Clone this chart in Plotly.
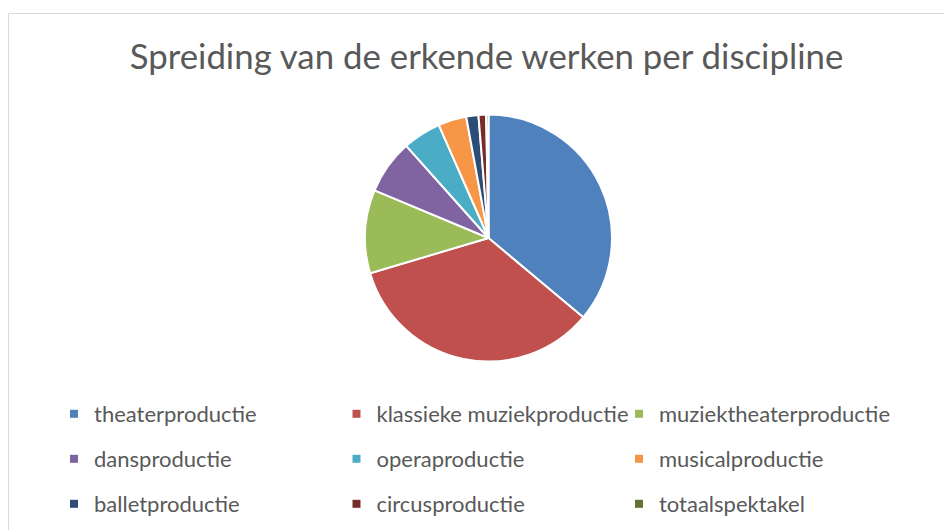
import plotly.graph_objects as go

title_text = "Spreiding van de erkende werken per discipline"
categories = ["theaterproductie", "klassieke muziekproductie", "muziektheaterproductie",
              "dansproductie", "operaproductie", "musicalproductie",
              "balletproductie", "circusproductie", "totaalspektakel"]
values = [36.1, 34.3, 10.9, 7.1, 5.0, 3.7, 1.6, 1.0, 0.3]
colors = ["#4F81BD", "#C0504D", "#9BBB59", "#8064A2", "#4BACC6", "#F79646",
          "#2C4D75", "#772C2A", "#5F7530"]

# page body has an 8px margin; figure coordinates below are screen - 8
OFF = 8
W, H = 952 - OFF, 530 - OFF
FONT = "Lato"
TXT = "#595959"

fig = go.Figure()

cx, cy, r = 488.5 - OFF, 238.0 - OFF, 123.5
fig.add_trace(go.Pie(
    labels=categories, values=values, sort=False, direction="clockwise", rotation=0,
    marker=dict(colors=colors, line=dict(color="white", width=2)),
    textinfo="none", hoverinfo="label+percent", showlegend=False,
    domain=dict(x=[(cx - r) / W, (cx + r) / W], y=[(H - cy - r) / H, (H - cy + r) / H]),
))

# legend entries (one legend per row, three columns)
legend_names = ["legend", "legend2", "legend3"]
for i, (cat, col) in enumerate(zip(categories, colors)):
    fig.add_trace(go.Scatter(
        x=[None], y=[None], mode="markers", name=cat,
        marker=dict(symbol="square", size=8, color=col),
        legend=legend_names[i // 3], showlegend=True, hoverinfo="skip",
    ))

row_y = [414 - OFF, 459 - OFF, 504 - OFF]
leg_common = dict(orientation="h", entrywidth=237.5, entrywidthmode="pixels",
                  font=dict(family=FONT, size=22, color=TXT),
                  bgcolor="rgba(0,0,0,0)", borderwidth=0,
                  xanchor="left", yanchor="middle", x=(54 - OFF) / W, itemclick=False,
                  itemdoubleclick=False)

layout_legends = {}
for name, yy in zip(legend_names, row_y):
    layout_legends[name] = dict(leg_common, y=1 - yy / H)

fig.update_layout(
    width=W, height=H,
    margin=dict(l=0, r=0, t=0, b=0),
    paper_bgcolor="white", plot_bgcolor="white",
    title=dict(text=title_text, x=(486.5 - OFF) / W, xanchor="center", y=1 - (57 - OFF) / H,
               yanchor="middle", font=dict(family=FONT, size=34.8, color=TXT)),
    xaxis=dict(visible=False), yaxis=dict(visible=False),
    shapes=[dict(type="rect", xref="paper", yref="paper",
                 x0=0.5 / W, x1=1.05, y0=-0.05, y1=1 - (13.5 - OFF) / H,
                 line=dict(color="#D9D9D9", width=1), fillcolor="rgba(0,0,0,0)", layer="below")],
    **layout_legends,
)

fig.write_html("out.html")
